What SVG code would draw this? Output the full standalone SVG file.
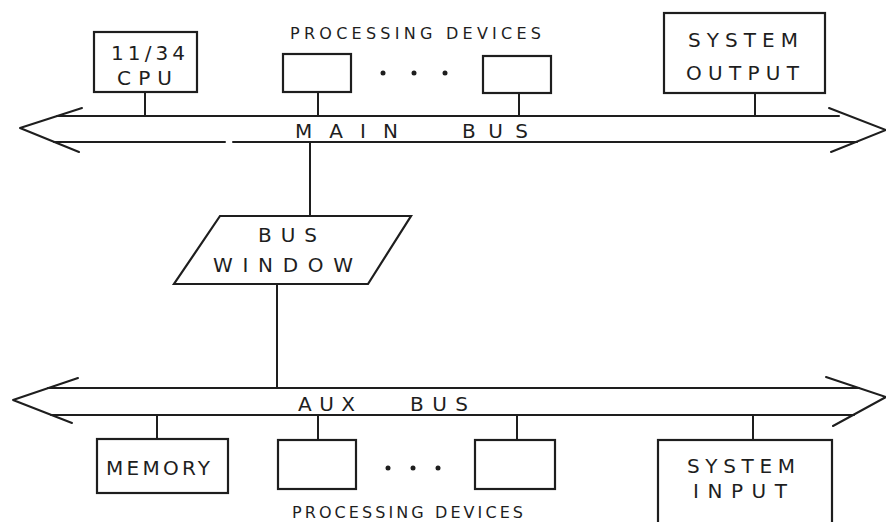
<svg xmlns="http://www.w3.org/2000/svg" width="886" height="522" viewBox="0 0 886 522">
<style>
.s{fill:none;stroke:#1e1e1e;stroke-width:2;stroke-linecap:round;stroke-linejoin:round}
.b{fill:#fff;stroke:#1e1e1e;stroke-width:2.2}
text{font-family:"DejaVu Sans","Liberation Sans",sans-serif;fill:#1e1e1e;text-anchor:start}
.l{font-size:20px}
.m{font-size:16px}
.d{fill:#1e1e1e}
</style>
<rect width="886" height="522" fill="#fff"/>
<g id="connectors">
  <!-- main bus -->
  <polyline class="s" points="82,108 20,128 79,152"/>
  <line class="s" x1="57" y1="116" x2="839" y2="116"/>
  <line class="s" x1="54" y1="142" x2="225" y2="142"/>
  <line class="s" x1="233" y1="142" x2="857" y2="142"/>
  <polyline class="s" points="829,108 886,130 831,152"/>
  <!-- aux bus -->
  <polyline class="s" points="78,378 13,400 72,423"/>
  <line class="s" x1="48" y1="388" x2="859" y2="388"/>
  <line class="s" x1="51" y1="415" x2="854" y2="415"/>
  <polyline class="s" points="826,377 886,397 833,426"/>
  <!-- stems -->
  <line class="s" x1="145" y1="92" x2="145" y2="116"/>
  <line class="s" x1="318" y1="92" x2="318" y2="116"/>
  <line class="s" x1="519" y1="93" x2="519" y2="116"/>
  <line class="s" x1="755" y1="93" x2="755" y2="116"/>
  <line class="s" x1="310" y1="142" x2="310" y2="216"/>
  <line class="s" x1="277" y1="284" x2="277" y2="388"/>
  <line class="s" x1="157" y1="415" x2="157" y2="439"/>
  <line class="s" x1="318" y1="415" x2="318" y2="440"/>
  <line class="s" x1="517" y1="415" x2="517" y2="440"/>
  <line class="s" x1="753" y1="415" x2="753" y2="440"/>
</g>
<g id="main-bus-label">
  <text class="l" x="295" y="138" textLength="103" lengthAdjust="spacing">MAIN</text>
  <text class="l" x="462" y="138" textLength="66" lengthAdjust="spacing">BUS</text>
</g>
<g id="aux-bus-label">
  <text class="l" x="298" y="411" textLength="57" lengthAdjust="spacing">AUX</text>
  <text class="l" x="410" y="411" textLength="58" lengthAdjust="spacing">BUS</text>
</g>
<g id="cpu">
  <rect class="b" x="94" y="32" width="103" height="60"/>
  <text class="l" x="111" y="60" font-size="23" textLength="74" lengthAdjust="spacing">11/34</text>
  <text class="l" x="117" y="85" font-size="23" textLength="55" lengthAdjust="spacing">CPU</text>
</g>
<g id="processing-devices-top">
  <text class="m" x="290" y="39" textLength="251" lengthAdjust="spacing">PROCESSING DEVICES</text>
  <rect class="b" x="283" y="54" width="68" height="38"/>
  <circle class="d" cx="383" cy="73" r="2.5"/>
  <circle class="d" cx="414" cy="73" r="2.5"/>
  <circle class="d" cx="445" cy="73" r="2.5"/>
  <rect class="b" x="483" y="56" width="68" height="37"/>
</g>
<g id="system-output">
  <rect class="b" x="664" y="13" width="161" height="80"/>
  <text class="l" x="688" y="47" textLength="110" lengthAdjust="spacing">SYSTEM</text>
  <text class="l" x="686" y="80" textLength="113" lengthAdjust="spacing">OUTPUT</text>
</g>
<g id="bus-window">
  <polygon class="b" points="220,216 411,216 368,284 174,284"/>
  <text class="l" x="258" y="242" textLength="59" lengthAdjust="spacing">BUS</text>
  <text class="l" x="213" y="272" textLength="140" lengthAdjust="spacing">WINDOW</text>
</g>
<g id="memory">
  <rect class="b" x="97" y="439" width="131" height="54"/>
  <text class="l" x="106" y="475" textLength="104" lengthAdjust="spacing">MEMORY</text>
</g>
<g id="processing-devices-bottom">
  <rect class="b" x="278" y="440" width="78" height="49"/>
  <circle class="d" cx="388" cy="468" r="2.5"/>
  <circle class="d" cx="413" cy="468" r="2.5"/>
  <circle class="d" cx="438" cy="468" r="2.5"/>
  <rect class="b" x="475" y="440" width="80" height="49"/>
  <text class="m" x="292" y="518" textLength="231" lengthAdjust="spacing">PROCESSING DEVICES</text>
</g>
<g id="system-input">
  <rect class="b" x="658" y="440" width="174" height="90"/>
  <text class="l" x="687" y="473" textLength="108" lengthAdjust="spacing">SYSTEM</text>
  <text class="l" x="693" y="498" textLength="94" lengthAdjust="spacing">INPUT</text>
</g>
</svg>
